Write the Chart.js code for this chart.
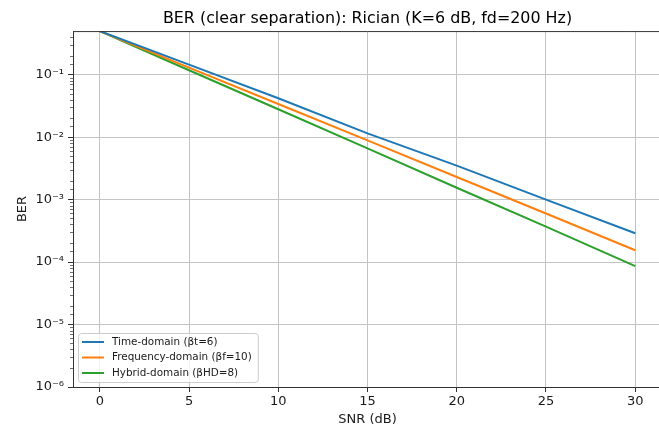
<!DOCTYPE html>
<html>
<head>
<meta charset="utf-8">
<script src="https://cdn.jsdelivr.net/npm/chart.js@4.4.1/dist/chart.umd.min.js"></script>
<style>
  html, body { margin: 0; padding: 0; background: #fff; overflow: hidden; }
  #wrap { width: 659px; height: 427px; overflow: hidden; }
</style>
</head>
<body>
<div id="wrap"><canvas id="ber_chart" width="662" height="427"></canvas></div>
<script>
// values
const snrDb = [0, 5, 10, 15, 20, 25, 30];
const berTime = [0.5, 0.145, 0.042, 0.0115, 0.0035, 0.00100, 0.00029];
const berFreq = [0.5, 0.130, 0.034, 0.0089, 0.0023, 0.00060, 0.000155];
const berHybrid = [0.5, 0.118, 0.028, 0.0066, 0.00155, 0.00037, 0.000086];
const seriesNames = ["Time-domain (βt=6)", "Frequency-domain (βf=10)", "Hybrid-domain (βHD=8)"];
const seriesColors = ["#1f77b4", "#ff7f0e", "#2ca02c"];
const xTicks = [0, 5, 10, 15, 20, 25, 30];

const FONT = "'DejaVu Sans', sans-serif";
const sup = {"-": "⁻", "0": "⁰", "1": "¹", "2": "²", "3": "³", "4": "⁴", "5": "⁵", "6": "⁶", "7": "⁷", "8": "⁸", "9": "⁹"};

function isDecade(v) {
    let l = Math.log10(v);
    return Math.abs(l - Math.round(l)) < 1e-9;
}

function powLabel(v) {
    let e = String(Math.round(Math.log10(v)));
    return "10" + e.split("").map(c => sup[c]).join("");
}

function toPoints(ys) {
    return snrDb.map((x, i) => ({x: x, y: ys[i]}));
}

// top spine, minor y ticks and the boxed legend inside the axes
const axesExtras = {
    id: "axesExtras",
    afterDraw(chart) {
        let ctx = chart.ctx;
        let a = chart.chartArea;
        let y = chart.scales.y;
        ctx.save();
        ctx.strokeStyle = "#333";
        ctx.lineWidth = 1;
        ctx.beginPath();
        ctx.moveTo(a.left, a.top + 0.5);
        ctx.lineTo(a.right, a.top + 0.5);
        ctx.stroke();

        ctx.lineWidth = 0.7;
        y.ticks.forEach(t => {
            if (isDecade(t.value)) return;
            let py = Math.round(y.getPixelForValue(t.value)) + 0.5;
            if (py < a.top + 1) return;
            ctx.beginPath();
            ctx.moveTo(a.left - 3, py);
            ctx.lineTo(a.left, py);
            ctx.stroke();
        });

        // legend
        ctx.font = "10.4px " + FONT;
        let textW = Math.max(...seriesNames.map(n => ctx.measureText(n).width));
        let bx = a.left + 5, by = a.bottom - 54, bh = 49;
        let bw = (112 - bx) + textW + 6;
        ctx.beginPath();
        ctx.roundRect(bx + 0.5, by + 0.5, bw, bh, 3);
        ctx.fillStyle = "rgba(255,255,255,0.8)";
        ctx.fill();
        ctx.strokeStyle = "#cccccc";
        ctx.lineWidth = 1;
        ctx.stroke();
        seriesNames.forEach((name, i) => {
            let ry = by + 9 + i * 15.5;
            ctx.strokeStyle = seriesColors[i];
            ctx.lineWidth = 2;
            ctx.beginPath();
            ctx.moveTo(bx + 4, ry);
            ctx.lineTo(bx + 26, ry);
            ctx.stroke();
            ctx.fillStyle = "#1a1a1a";
            ctx.textBaseline = "middle";
            ctx.textAlign = "left";
            ctx.fillText(name, 112, ry);
        });
        ctx.restore();
    }
};

new Chart("ber_chart", {
    type: "line",
    data: {
        datasets: [
            {label: seriesNames[0], data: toPoints(berTime), borderColor: seriesColors[0]},
            {label: seriesNames[1], data: toPoints(berFreq), borderColor: seriesColors[1]},
            {label: seriesNames[2], data: toPoints(berHybrid), borderColor: seriesColors[2]}
        ]
    },
    options: {
        responsive: false,
        animation: false,
        devicePixelRatio: 1,
        layout: {padding: {left: 0, right: 0, top: 0, bottom: 0}},
        elements: {
            line: {borderWidth: 2, tension: 0, fill: false},
            point: {radius: 0}
        },
        plugins: {
            legend: {display: false},
            tooltip: {enabled: false},
            title: {
                display: true,
                fullSize: false,
                text: "BER (clear separation): Rician (K=6 dB, fd=200 Hz)",
                color: "#000",
                font: {family: FONT, size: 15.9, weight: "normal", lineHeight: 1.2},
                padding: {top: 9, bottom: 3}
            }
        },
        scales: {
            x: {
                type: "linear",
                min: -1.5,
                max: 31.5,
                afterBuildTicks: s => { s.ticks = xTicks.map(v => ({value: v})); },
                afterFit: s => { s.height = 40; },
                ticks: {
                    color: "#1a1a1a",
                    font: {family: FONT, size: 13},
                    padding: 2,
                    maxRotation: 0,
                    autoSkip: false
                },
                grid: {color: "#c4c4c4", lineWidth: 1, tickColor: "#333", tickLength: 5},
                border: {color: "#333", width: 1},
                title: {
                    display: true,
                    text: "SNR (dB)",
                    color: "#1a1a1a",
                    font: {family: FONT, size: 13, lineHeight: 1.1},
                    padding: {top: 0, bottom: 0}
                }
            },
            y: {
                type: "logarithmic",
                min: 1e-6,
                max: 0.5,
                afterFit: s => { s.width = 73; },
                ticks: {
                    color: "#1a1a1a",
                    font: {family: FONT, size: 13},
                    padding: 4,
                    autoSkip: false,
                    callback: v => isDecade(v) ? powLabel(v) : ""
                },
                grid: {
                    color: c => (c.tick && isDecade(c.tick.value)) ? "#c4c4c4" : "rgba(0,0,0,0)",
                    tickColor: c => (c.tick && isDecade(c.tick.value)) ? "#333" : "rgba(0,0,0,0)",
                    lineWidth: 1,
                    tickLength: 5
                },
                border: {color: "#333", width: 1},
                title: {
                    display: true,
                    text: "BER",
                    color: "#1a1a1a",
                    font: {family: FONT, size: 13, lineHeight: 1.1},
                    padding: {top: 15, bottom: 0}
                }
            }
        }
    },
    plugins: [axesExtras]
});
</script>
</body>
</html>
